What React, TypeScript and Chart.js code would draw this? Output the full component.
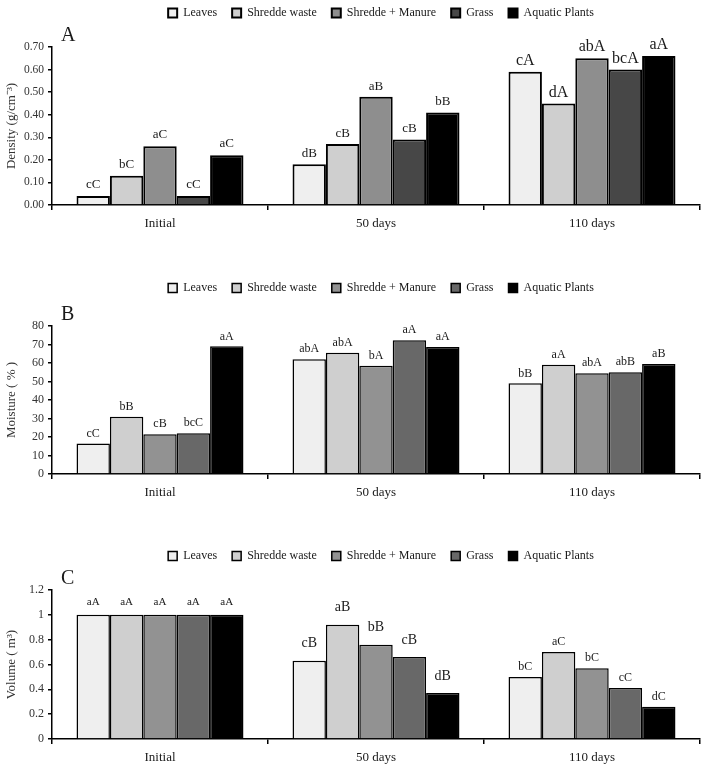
import React, { useEffect, useRef } from "react";
import { Chart, registerables } from "chart.js";

Chart.register(...registerables);

const serif = "'Liberation Serif', 'Times New Roman', serif";

const categories = ["Initial", "50 days", "110 days"];
const seriesNames = ["Leaves", "Shredde waste", "Shredde + Manure", "Grass", "Aquatic Plants"];

// Density (g/cm-3), one array per treatment: Initial, 50 days, 110 days
const densityLeaves = [0.04, 0.18, 0.59];
const densityShredde = [0.13, 0.27, 0.45];
const densityShreddeManure = [0.26, 0.48, 0.65];
const densityGrass = [0.04, 0.29, 0.6];
const densityAquatic = [0.22, 0.41, 0.66];
const densityLetters = [
  ["cC", "dB", "cA"],
  ["bC", "cB", "dA"],
  ["aC", "aB", "abA"],
  ["cC", "cB", "bcA"],
  ["aC", "bB", "aA"],
];

// Moisture (%)
const moistureLeaves = [16.5, 62, 49];
const moistureShredde = [31, 65.5, 59];
const moistureShreddeManure = [21.5, 58.5, 54.5];
const moistureGrass = [22, 72.3, 55];
const moistureAquatic = [69, 68.7, 59.5];
const moistureLetters = [
  ["cC", "abA", "bB"],
  ["bB", "abA", "aA"],
  ["cB", "bA", "abA"],
  ["bcC", "aA", "abB"],
  ["aA", "aA", "aB"],
];

// Volume (m3)
const volumeLeaves = [1, 0.63, 0.5];
const volumeShredde = [1, 0.92, 0.7];
const volumeShreddeManure = [1, 0.76, 0.57];
const volumeGrass = [1, 0.66, 0.41];
const volumeAquatic = [1, 0.37, 0.26];
const volumeLetters = [
  ["aA", "cB", "bC"],
  ["aA", "aB", "aC"],
  ["aA", "bB", "bC"],
  ["aA", "cB", "cC"],
  ["aA", "dB", "dC"],
];

type PanelProps = {
  top: number;
  plotTop: number;
  plotHeight: number;
  tag: string;
  yTitle: string;
  series: number[][];
  letters: string[][];
  yMax: number;
  yStep: number;
  tickText: (v: number) => string;
  fills: string[];
  border: number;
  tickSize: number;
  letterSizes: number[];
  letterGaps: number[];
};

const AXIS_H = 26;
const LEGEND_SHIFT = 5;

function Panel(p: PanelProps) {
  const ref = useRef<HTMLCanvasElement>(null);
  const height = p.plotTop + p.plotHeight + AXIS_H;

  useEffect(() => {
    const canvas = ref.current;
    if (!canvas) return;

    // fixed legend band height so the plot area starts where wanted
    const legendHeight = {
      id: "legendHeight",
      beforeInit(chart: any) {
        const legend = chart.legend;
        const fit = legend.fit;
        legend.fit = function () {
          fit.call(this);
          this.height = p.plotTop;
        };
      },
      afterUpdate(chart: any) {
        const legend = chart.legend;
        legend.left += LEGEND_SHIFT;
        legend.right += LEGEND_SHIFT;
      },
    };

    // significance letters above each bar and the panel tag
    const marks = {
      id: "marks",
      afterDatasetsDraw(chart: any) {
        const ctx = chart.ctx;
        ctx.save();
        ctx.fillStyle = "#1a1a1a";
        ctx.textAlign = "center";
        ctx.textBaseline = "bottom";
        chart.data.datasets.forEach((_ds: any, i: number) => {
          const meta = chart.getDatasetMeta(i);
          meta.data.forEach((bar: any, j: number) => {
            ctx.font = `${p.letterSizes[j]}px ${serif}`;
            ctx.fillText(p.letters[i][j], bar.x, bar.y - p.letterGaps[j]);
          });
        });
        ctx.font = `20px ${serif}`;
        ctx.textAlign = "left";
        ctx.textBaseline = "middle";
        ctx.fillText(p.tag, chart.chartArea.left + 9, chart.chartArea.top - 11);
        ctx.restore();
      },
    };

    const chart = new Chart(canvas, {
      type: "bar",
      data: {
        labels: categories,
        datasets: seriesNames.map((name, i) => ({
          label: name,
          data: p.series[i],
          backgroundColor: p.fills[i],
          borderColor: "#000",
          borderWidth: p.border,
          categoryPercentage: 0.773,
          barPercentage: 1,
        })),
      },
      options: {
        responsive: false,
        animation: false,
        devicePixelRatio: 1,
        layout: { padding: { left: 0, right: 5, top: 0, bottom: 0 } },
        plugins: {
          legend: {
            position: "top",
            fullSize: false,
            labels: {
              boxWidth: 9,
              boxHeight: 9,
              padding: 15,
              color: "#1a1a1a",
              font: { family: serif, size: 12 },
            },
          },
          tooltip: { enabled: false },
        },
        scales: {
          x: {
            grid: {
              display: true,
              drawOnChartArea: false,
              offset: true,
              tickLength: 5,
              color: "#000",
              lineWidth: 1.5,
            },
            border: { color: "#000", width: 1.5 },
            ticks: {
              color: "#1a1a1a",
              padding: 6,
              maxRotation: 0,
              font: { family: serif, size: 13 },
            },
            afterFit: (s: any) => {
              s.height = AXIS_H;
            },
          },
          y: {
            min: 0,
            max: p.yMax,
            ticks: {
              stepSize: p.yStep,
              callback: (v: any) => p.tickText(Number(v)),
              color: "#333",
              padding: 4,
              font: { family: serif, size: p.tickSize },
            },
            grid: {
              drawOnChartArea: false,
              tickLength: 4,
              color: "#000",
              lineWidth: 1.5,
            },
            border: { color: "#000", width: 1.5 },
            title: {
              display: true,
              text: p.yTitle,
              color: "#333",
              font: { family: serif, size: 13 },
              padding: { top: 4, bottom: 0 },
            },
            afterFit: (s: any) => {
              s.width = 52;
            },
          },
        },
      },
      plugins: [legendHeight, marks],
    } as any);

    return () => chart.destroy();
  }, []);

  return (
    <canvas
      ref={ref}
      width={705}
      height={height}
      style={{ position: "absolute", left: 0, top: p.top, width: 705, height }}
    />
  );
}

const fillsA = ["#efefef", "#cfcfcf", "#8e8e8e", "#474747", "#000000"];
const fillsBC = ["#efefef", "#cfcfcf", "#929292", "#686868", "#000000"];

export default function App() {
  return (
    <div style={{ position: "absolute", left: 0, top: 0, width: 705, height: 765, overflow: "hidden", background: "#fff" }}>
      <Panel
        top={-8}
        plotTop={55}
        plotHeight={158}
        tag="A"
        yTitle="Density (g/cm⁻³)"
        series={[densityLeaves, densityShredde, densityShreddeManure, densityGrass, densityAquatic]}
        letters={densityLetters}
        yMax={0.7}
        yStep={0.1}
        tickText={(v) => v.toFixed(2)}
        fills={fillsA}
        border={2}
        tickSize={11.5}
        letterSizes={[13, 13, 16]}
        letterGaps={[5, 4, 3]}
      />
      <Panel
        top={267}
        plotTop={59}
        plotHeight={148}
        tag="B"
        yTitle="Moisture ( % )"
        series={[moistureLeaves, moistureShredde, moistureShreddeManure, moistureGrass, moistureAquatic]}
        letters={moistureLetters}
        yMax={80}
        yStep={10}
        tickText={(v) => String(Math.round(v))}
        fills={fillsBC}
        border={1.5}
        tickSize={12}
        letterSizes={[12, 12, 12]}
        letterGaps={[4, 4, 4]}
      />
      <Panel
        top={535}
        plotTop={55}
        plotHeight={149}
        tag="C"
        yTitle="Volume ( m³)"
        series={[volumeLeaves, volumeShredde, volumeShreddeManure, volumeGrass, volumeAquatic]}
        letters={volumeLetters}
        yMax={1.2}
        yStep={0.2}
        tickText={(v) => String(Number(v.toFixed(1)))}
        fills={fillsBC}
        border={1.5}
        tickSize={12}
        letterSizes={[11, 14, 12]}
        letterGaps={[7, 10, 4]}
      />
    </div>
  );
}
